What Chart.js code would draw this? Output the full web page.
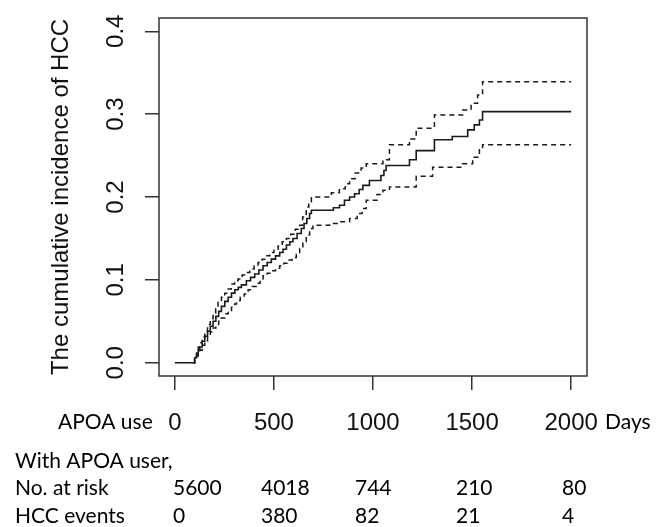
<!DOCTYPE html>
<html>
<head>
<meta charset="utf-8">
<script src="https://cdn.jsdelivr.net/npm/chart.js@4/dist/chart.umd.min.js"></script>
<style>
  html, body { margin: 0; padding: 0; background: #fff; }
  #wrap { width: 656px; height: 527px; }
</style>
</head>
<body>
<div id="wrap"><canvas id="cif"></canvas></div>
<script>
// Cumulative incidence of HCC (step estimate) with upper/lower confidence bands
const estDays = [0, 92, 100, 110, 118, 126, 138, 151, 165, 179, 193, 207, 221, 235, 252, 269, 286, 303, 320, 336, 361, 382, 403, 424, 445, 466, 487, 508, 529, 546, 563, 580, 596, 617, 638, 652, 666, 680, 689, 800, 831, 856, 882, 907, 930, 949, 982, 1040, 1055, 1066, 1184, 1218, 1310, 1400, 1478, 1511, 1537, 1553, 2000];
const estCif = [0, 0, 0.006, 0.011, 0.015, 0.019, 0.026, 0.032, 0.038, 0.044, 0.050, 0.056, 0.062, 0.068, 0.074, 0.079, 0.084, 0.088, 0.091, 0.094, 0.099, 0.103, 0.107, 0.112, 0.117, 0.121, 0.125, 0.129, 0.133, 0.137, 0.142, 0.146, 0.150, 0.156, 0.162, 0.168, 0.174, 0.180, 0.184, 0.187, 0.190, 0.196, 0.200, 0.204, 0.209, 0.214, 0.220, 0.226, 0.232, 0.238, 0.245, 0.256, 0.269, 0.273, 0.281, 0.287, 0.293, 0.303, 0.303];

const upperDays = [92, 100, 110, 118, 126, 138, 151, 165, 179, 193, 206, 218, 235, 252, 269, 285, 302, 319, 340, 360, 378, 400, 420, 440, 460, 479, 500, 521, 542, 563, 585, 608, 630, 645, 663, 676, 689, 790, 830, 860, 882, 910, 940, 966, 1050, 1083, 1184, 1218, 1310, 1452, 1495, 1528, 1553, 2000];
const upperCif = [0, 0.008, 0.014, 0.019, 0.024, 0.031, 0.038, 0.046, 0.053, 0.060, 0.067, 0.073, 0.079, 0.084, 0.089, 0.095, 0.099, 0.101, 0.106, 0.109, 0.113, 0.117, 0.121, 0.125, 0.129, 0.133, 0.137, 0.141, 0.146, 0.150, 0.155, 0.161, 0.166, 0.176, 0.188, 0.194, 0.200, 0.205, 0.210, 0.216, 0.222, 0.229, 0.235, 0.240, 0.245, 0.263, 0.270, 0.283, 0.299, 0.305, 0.313, 0.323, 0.339, 0.339];

const lowerDays = [92, 100, 110, 118, 126, 138, 151, 165, 179, 193, 207, 221, 235, 252, 269, 286, 302, 311, 330, 350, 370, 390, 410, 430, 445, 466, 487, 508, 529, 550, 571, 592, 613, 630, 646, 663, 680, 697, 781, 830, 882, 920, 945, 966, 1020, 1050, 1083, 1218, 1301, 1452, 1503, 1537, 1553, 2000];
const lowerCif = [0, 0.004, 0.008, 0.012, 0.015, 0.021, 0.026, 0.032, 0.037, 0.042, 0.046, 0.050, 0.054, 0.059, 0.063, 0.067, 0.071, 0.075, 0.079, 0.083, 0.088, 0.092, 0.096, 0.101, 0.105, 0.108, 0.111, 0.114, 0.117, 0.120, 0.124, 0.127, 0.131, 0.138, 0.146, 0.154, 0.162, 0.166, 0.168, 0.170, 0.174, 0.180, 0.186, 0.196, 0.203, 0.208, 0.212, 0.225, 0.236, 0.240, 0.248, 0.257, 0.263, 0.263];

const xTicks = [0, 500, 1000, 1500, 2000];
const yTicks = [0, 0.1, 0.2, 0.3, 0.4];

// number at risk table
const rowLabels = ["No. at risk", "HCC events"];
const atRisk = [5600, 4018, 744, 210, 80];
const hccEvents = [0, 380, 82, 21, 4];

const toPoints = (xs, ys) => xs.map((x, i) => ({ x: x, y: ys[i] }));

const axisFont = '"Liberation Sans", Arial, sans-serif';
const tableFont = 'Lato, "Open Sans", sans-serif';

// box, rotated y labels, y title and the risk table
const extrasPlugin = {
  id: 'extras',
  afterDraw(chart) {
    const ctx = chart.ctx;
    const area = chart.chartArea;
    const yScale = chart.scales.y;

    ctx.save();
    ctx.strokeStyle = '#333';
    ctx.lineWidth = 1.5;
    ctx.strokeRect(area.left, area.top, area.right - area.left, area.bottom - area.top);

    ctx.fillStyle = '#111';
    ctx.font = '24px ' + axisFont;
    ctx.textAlign = 'center';
    ctx.textBaseline = 'alphabetic';
    yTicks.forEach(v => {
      ctx.save();
      ctx.translate(123, yScale.getPixelForValue(v));
      ctx.rotate(-Math.PI / 2);
      ctx.fillText(v.toFixed(1), 0, 0);
      ctx.restore();
    });

    ctx.save();
    ctx.translate(68, (area.top + area.bottom) / 2);
    ctx.rotate(-Math.PI / 2);
    ctx.fillText('The cumulative incidence of HCC', 0, 0);
    ctx.restore();

    // table text
    ctx.fillStyle = '#000';
    ctx.font = '21px ' + tableFont;
    ctx.textAlign = 'left';
    ctx.textBaseline = 'middle';
    ctx.fillText('APOA use', 58, 422);
    ctx.fillText('Days', 605, 422);
    ctx.fillText('With APOA user,', 15, 461);
    ctx.fillText(rowLabels[0], 15, 488);
    ctx.fillText(rowLabels[1], 15, 516);
    const colX = [173, 261, 355, 456, 562];
    atRisk.forEach((n, i) => ctx.fillText(String(n), colX[i], 488));
    hccEvents.forEach((n, i) => ctx.fillText(String(n), colX[i], 516));
    ctx.restore();
  }
};

const lineColor = '#1a1a1a';

new Chart(document.getElementById('cif'), {
  type: 'line',
  data: {
    datasets: [
      {
        label: 'Cumulative incidence',
        data: toPoints(estDays, estCif),
        stepped: true,
        borderColor: lineColor,
        borderWidth: 1.6,
        pointRadius: 0,
        fill: false
      },
      {
        label: 'Upper 95% CI',
        data: toPoints(upperDays, upperCif),
        stepped: true,
        borderColor: lineColor,
        borderWidth: 1.5,
        borderDash: [5, 4],
        pointRadius: 0,
        fill: false
      },
      {
        label: 'Lower 95% CI',
        data: toPoints(lowerDays, lowerCif),
        stepped: true,
        borderColor: lineColor,
        borderWidth: 1.5,
        borderDash: [5, 4],
        pointRadius: 0,
        fill: false
      }
    ]
  },
  options: {
    responsive: true,
    maintainAspectRatio: false,
    animation: false,
    layout: { padding: { top: 18, right: 69, left: 0, bottom: 0 } },
    plugins: {
      legend: { display: false },
      tooltip: { enabled: false }
    },
    scales: {
      x: {
        type: 'linear',
        min: -80,
        max: 2080,
        afterBuildTicks: (scale) => { scale.ticks = xTicks.map(v => ({ value: v })); },
        afterFit: (scale) => { scale.height = 151; },
        border: { display: false },
        grid: { drawOnChartArea: false, drawTicks: true, tickLength: 14, color: '#333', lineWidth: 1.5 },
        ticks: {
          autoSkip: false,
          maxRotation: 0,
          padding: 19,
          color: '#111',
          font: { family: axisFont, size: 24 },
          callback: (v) => String(v)
        }
      },
      y: {
        type: 'linear',
        min: -0.016,
        max: 0.416,
        afterBuildTicks: (scale) => { scale.ticks = yTicks.map(v => ({ value: v })); },
        afterFit: (scale) => { scale.width = 159; },
        border: { display: false },
        grid: { drawOnChartArea: false, drawTicks: true, tickLength: 14, color: '#333', lineWidth: 1.5 },
        ticks: { display: false }
      }
    }
  },
  plugins: [extrasPlugin]
});
</script>
</body>
</html>
